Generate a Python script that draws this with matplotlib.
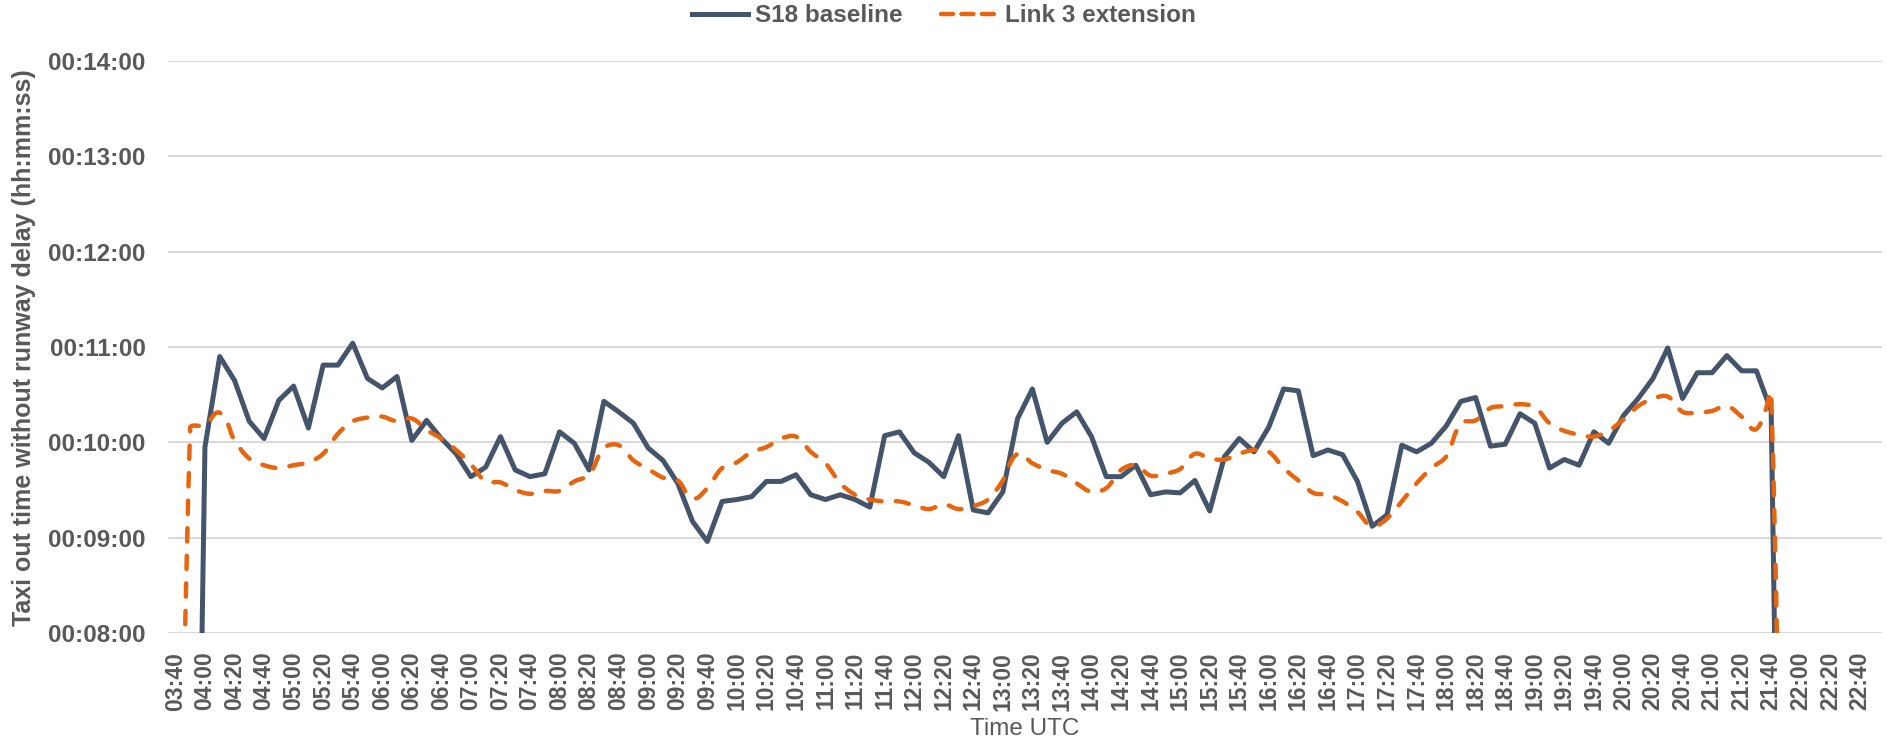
import matplotlib
matplotlib.use('Agg')
import matplotlib.pyplot as plt
import numpy as np
import pandas as pd
from matplotlib.path import Path
from matplotlib.patches import PathPatch
from matplotlib.lines import Line2D
from matplotlib.ticker import FuncFormatter, MultipleLocator

plt.rcParams['font.family'] = ['Liberation Sans', 'DejaVu Sans']
plt.rcParams['font.weight'] = 'bold'

# 10-minute slots, 03:40 .. 22:50 (category axis)
slots = pd.date_range('2000-01-01 03:40', '2000-01-01 22:50', freq='10min').strftime('%H:%M').tolist()

# taxi-out time in minutes per slot, starting 03:40 (0 = no data in that slot)
s18_baseline = [
    0, 0, 9.95, 10.90, 10.65, 10.22, 10.04, 10.44, 10.59, 10.15,
    10.81, 10.81, 11.04, 10.67, 10.57, 10.69, 10.02, 10.23, 10.04, 9.88,
    9.64, 9.74, 10.06, 9.71, 9.64, 9.67, 10.11, 9.99, 9.71, 10.43,
    10.32, 10.20, 9.94, 9.81, 9.57, 9.17, 8.96, 9.38, 9.40, 9.43,
    9.59, 9.59, 9.66, 9.45, 9.40, 9.45, 9.40, 9.32, 10.07, 10.11,
    9.89, 9.79, 9.64, 10.07, 9.29, 9.26, 9.48, 10.25, 10.56, 10.00,
    10.20, 10.32, 10.06, 9.64, 9.64, 9.76, 9.45, 9.48, 9.47, 9.60,
    9.28, 9.85, 10.04, 9.90, 10.16, 10.56, 10.54, 9.86, 9.92, 9.87,
    9.59, 9.12, 9.24, 9.97, 9.90, 9.99, 10.17, 10.43, 10.47, 9.96,
    9.98, 10.30, 10.20, 9.73, 9.82, 9.76, 10.11, 9.99, 10.28, 10.46,
    10.67, 10.99, 10.46, 10.73, 10.73, 10.91, 10.75, 10.75, 10.33, 0,
]
link3_extension = [
    0, 10.15, 10.18, 10.31, 10.02, 9.83, 9.76, 9.73, 9.76, 9.79,
    9.88, 10.09, 10.22, 10.26, 10.27, 10.22, 10.25, 10.13, 10.04, 9.92,
    9.77, 9.59, 9.58, 9.50, 9.46, 9.49, 9.49, 9.59, 9.66, 9.94,
    9.97, 9.81, 9.72, 9.63, 9.60, 9.41, 9.52, 9.73, 9.79, 9.90,
    9.95, 10.04, 10.06, 9.90, 9.78, 9.57, 9.45, 9.40, 9.38, 9.38,
    9.34, 9.30, 9.35, 9.30, 9.33, 9.40, 9.60, 9.88, 9.78, 9.71,
    9.67, 9.57, 9.48, 9.52, 9.71, 9.76, 9.65, 9.67, 9.72, 9.88,
    9.83, 9.82, 9.88, 9.92, 9.90, 9.73, 9.60, 9.47, 9.45, 9.38,
    9.27, 9.12, 9.20, 9.38, 9.57, 9.73, 9.85, 10.20, 10.23, 10.36,
    10.38, 10.40, 10.37, 10.20, 10.12, 10.08, 10.06, 10.12, 10.24, 10.38,
    10.46, 10.48, 10.32, 10.31, 10.33, 10.38, 10.27, 10.14, 10.51, 0,
]

blue = '#44546A'
orange = '#E8650F'
grey_txt = '#595959'

fig = plt.figure(figsize=(18.87, 7.47), dpi=100)
ax = fig.add_axes([168 / 1887, 1 - 633 / 747, (1882 - 168) / 1887, (633 - 61) / 747])

x = np.arange(len(slots))
ax.set_xlim(-0.5, len(slots) - 0.5)
ax.set_ylim(8, 14)
ax.yaxis.set_major_locator(MultipleLocator(1))
ax.yaxis.set_major_formatter(FuncFormatter(lambda v, p: '00:%02d:00' % v))
ax.grid(axis='y', color='#D9D9D9', lw=1.5)
ax.set_axisbelow(True)
for s in ax.spines.values():
    s.set_visible(False)
ax.tick_params(length=0, labelcolor=grey_txt)
ax.tick_params(axis='y', pad=16, labelsize=17.5)
ax.tick_params(axis='x', pad=13.5, labelsize=16.5)
ax.set_xticks(x[::2])
ax.set_xticklabels(slots[::2], rotation=90)

# baseline: straight segments
xb = x[:len(s18_baseline)]
ax.plot(xb, s18_baseline, color=blue, lw=3.6, solid_joinstyle='round', zorder=3)

# extension: smoothed line (Excel style bezier through the points)
xe = x[:len(link3_extension)]
P = ax.transData.transform(np.column_stack([xe, link3_extension]))
verts = [P[0]]
codes = [Path.MOVETO]
n = len(P)
for i in range(n - 1):
    p0 = P[i - 1] if i > 0 else P[i]
    p1, p2 = P[i], P[i + 1]
    p3 = P[i + 2] if i + 2 < n else P[i + 1]
    d1 = (p2 - p0) / np.linalg.norm(p2 - p0)
    d2 = (p3 - p1) / np.linalg.norm(p3 - p1)
    L = np.linalg.norm(p2 - p1)
    verts += [p1 + d1 * L / 3, p2 - d2 * L / 3, p2]
    codes += [Path.CURVE4] * 3
verts = ax.transData.inverted().transform(np.array(verts))
patch = PathPatch(Path(verts, codes), transform=ax.transData, fill=False,
                  edgecolor=orange, lw=3.2, linestyle=(0, (3.0, 3.2)), capstyle='round',
                  joinstyle='round', zorder=4)
ax.add_patch(patch)

handles = [Line2D([], [], color=blue, lw=3.6),
           Line2D([], [], color=orange, lw=3.2, dashes=(2.7, 1.9), dash_capstyle='round')]
fig.legend(handles, ['S18 baseline', 'Link 3 extension'], loc='center',
           bbox_to_anchor=(0.5, 1 - 16 / 747), ncol=2, frameon=False, fontsize=17.5,
           handlelength=2.3, columnspacing=1.6, handletextpad=0.3, labelcolor=grey_txt)

fig.text(24 / 1887, 0.535, 'Taxi out time without runway delay (hh:mm:ss)', rotation=90,
         ha='center', va='center', fontsize=18, color=grey_txt)
fig.text(1025 / 1887, 1 - 729 / 747, 'Time UTC', ha='center', va='center',
         fontsize=17.5, color=grey_txt, fontweight='normal')

fig.savefig('out.png', dpi=100)
